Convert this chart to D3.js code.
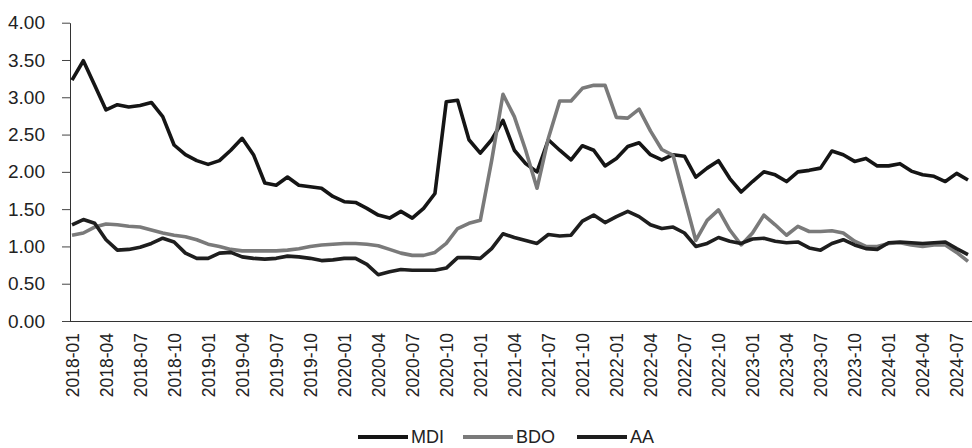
<!DOCTYPE html>
<html>
<head>
<meta charset="utf-8">
<script src="https://cdn.jsdelivr.net/npm/d3@7"></script>
<style>
  body { margin: 0; background: #fff; }
  svg { display: block; font-family: "Liberation Sans", Arial, sans-serif; }
</style>
</head>
<body>
<div id="chart"></div>
<script>
// months 2018-01 .. 2024-08
var months = [];
for (var yr = 2018; yr <= 2024; yr++) {
  for (var m = 1; m <= 12; m++) {
    if (yr === 2024 && m > 8) break;
    months.push(yr + "-" + (m < 10 ? "0" + m : m));
  }
}

var mdi = [3.23, 3.49, 3.16, 2.83, 2.90, 2.87, 2.89, 2.93, 2.74, 2.36, 2.23, 2.15,
  2.10, 2.15, 2.29, 2.45, 2.23, 1.85, 1.82, 1.93, 1.82, 1.80, 1.78, 1.67,
  1.60, 1.59, 1.51, 1.42, 1.38, 1.47, 1.38, 1.51, 1.71, 2.94, 2.96, 2.43,
  2.25, 2.43, 2.69, 2.29, 2.11, 2.00, 2.43, 2.29, 2.16, 2.35, 2.29, 2.08,
  2.18, 2.34, 2.39, 2.23, 2.16, 2.23, 2.21, 1.93, 2.05, 2.15, 1.91, 1.73,
  1.87, 2.00, 1.96, 1.87, 2.00, 2.02, 2.05, 2.28, 2.23, 2.14, 2.18, 2.08,
  2.08, 2.11, 2.01, 1.96, 1.94, 1.87, 1.98, 1.89];

var bdo = [1.15, 1.18, 1.26, 1.30, 1.29, 1.27, 1.26, 1.22, 1.18, 1.15, 1.13, 1.09,
  1.03, 1.00, 0.96, 0.94, 0.94, 0.94, 0.94, 0.95, 0.97, 1.00, 1.02, 1.03,
  1.04, 1.04, 1.03, 1.01, 0.96, 0.91, 0.88, 0.88, 0.92, 1.04, 1.24, 1.31,
  1.35, 2.15, 3.04, 2.74, 2.29, 1.78, 2.45, 2.95, 2.95, 3.12, 3.16, 3.16,
  2.73, 2.72, 2.84, 2.55, 2.30, 2.22, 1.65, 1.08, 1.35, 1.49, 1.22, 1.02,
  1.18, 1.42, 1.29, 1.15, 1.27, 1.20, 1.20, 1.21, 1.18, 1.07, 1.00, 1.00,
  1.04, 1.05, 1.02, 1.00, 1.02, 1.02, 0.92, 0.80];

var aa = [1.29, 1.36, 1.31, 1.09, 0.95, 0.96, 0.99, 1.04, 1.11, 1.06, 0.91, 0.84,
  0.84, 0.91, 0.92, 0.86, 0.84, 0.83, 0.84, 0.87, 0.86, 0.84, 0.81, 0.82,
  0.84, 0.84, 0.76, 0.62, 0.66, 0.69, 0.68, 0.68, 0.68, 0.71, 0.85, 0.85,
  0.84, 0.97, 1.17, 1.12, 1.08, 1.04, 1.16, 1.14, 1.15, 1.34, 1.42, 1.32,
  1.40, 1.47, 1.40, 1.29, 1.24, 1.26, 1.18, 1.00, 1.04, 1.12, 1.07, 1.04,
  1.10, 1.11, 1.07, 1.05, 1.06, 0.98, 0.95, 1.04, 1.09, 1.02, 0.97, 0.96,
  1.05, 1.06, 1.05, 1.04, 1.05, 1.06, 0.97, 0.89];

var yTicks = [0, 0.5, 1, 1.5, 2, 2.5, 3, 3.5, 4];
var xTicks = months.filter(function(d, i) { return i % 3 === 0; });

var seriesNames = ["MDI", "BDO", "AA"];
var seriesColors = ["#151515", "#7a7a7a", "#1e1e1e"];
var seriesData = [mdi, bdo, aa];

var width = 972, height = 448;
var svg = d3.select("#chart").append("svg")
  .attr("width", width).attr("height", height);

var x = d3.scalePoint().domain(months).range([72, 968]);
var y = d3.scaleLinear().domain([0, 4]).range([321, 22.7]);

// y axis
var yAxis = svg.append("g")
  .attr("transform", "translate(70,0)")
  .call(d3.axisLeft(y).tickValues(yTicks).tickFormat(d3.format(".2f"))
    .tickSize(8).tickSizeOuter(0).tickPadding(17));
yAxis.select(".domain").attr("stroke", "#333");
yAxis.selectAll(".tick line").attr("stroke", "#444");
yAxis.selectAll("text")
  .attr("font-size", 19).attr("fill", "#222")
  .attr("font-family", "Liberation Sans, Arial, sans-serif");

// x axis
var xAxis = svg.append("g")
  .attr("transform", "translate(0,321)")
  .call(d3.axisBottom(x).tickValues(xTicks).tickSize(0).tickSizeOuter(0));
xAxis.select(".domain").attr("stroke", "#333").attr("d", "M70,0.5H972");
xAxis.selectAll("text")
  .attr("font-size", 17.5).attr("fill", "#222")
  .attr("font-family", "Liberation Sans, Arial, sans-serif")
  .attr("text-anchor", "end")
  .attr("transform", "rotate(-90)")
  .attr("x", -12).attr("y", 0).attr("dy", "0.35em");

// lines
var line = d3.line()
  .x(function(d, i) { return x(months[i]); })
  .y(function(d) { return y(d); });

svg.selectAll(".series")
  .data(seriesData)
  .enter().append("path")
  .attr("class", "series")
  .attr("fill", "none")
  .attr("stroke", function(d, i) { return seriesColors[i]; })
  .attr("stroke-width", 3.6)
  .attr("stroke-linejoin", "round")
  .attr("d", line);

// legend
var legendX = [358, 463, 577];
var legend = svg.append("g").attr("transform", "translate(0,437)");
var items = legend.selectAll("g").data(seriesNames).enter().append("g")
  .attr("transform", function(d, i) { return "translate(" + legendX[i] + ",0)"; });
items.append("line")
  .attr("x1", 0).attr("x2", 50).attr("y1", 0).attr("y2", 0)
  .attr("stroke", function(d, i) { return seriesColors[i]; })
  .attr("stroke-width", 4);
items.append("text")
  .attr("x", 53).attr("y", 0).attr("dy", "0.35em")
  .attr("font-size", 18).attr("fill", "#222")
  .text(function(d) { return d; });
</script>
</body>
</html>
